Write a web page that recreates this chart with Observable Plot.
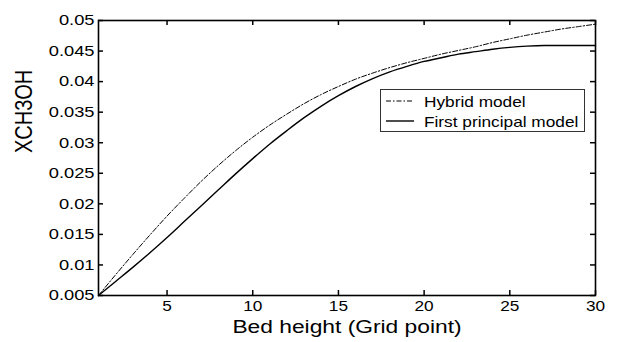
<!DOCTYPE html>
<html>
<head>
<meta charset="utf-8">
<script src="https://cdn.jsdelivr.net/npm/d3@7"></script>
<script src="https://cdn.jsdelivr.net/npm/@observablehq/plot@0.6"></script>
<style>
  html, body { margin: 0; padding: 0; background: #fff; }
  #chart { position: relative; width: 619px; height: 342px; font-family: "Liberation Sans", Arial, Helvetica, sans-serif; }
  .legend {
    position: absolute; left: 380px; top: 89px; width: 205px; height: 43px;
    border: 1px solid #333; background: #fff; box-sizing: border-box;
    font-size: 15px; color: #000;
  }
  .legend .row { position: absolute; left: 0; height: 20px; display: flex; align-items: center; }
  .legend .row svg { margin-left: 5px; margin-right: 10px; }
  .legend .row span { display: inline-block; transform: scaleX(1.15); transform-origin: left center; white-space: nowrap; }
</style>
</head>
<body>
<div id="chart"></div>
<script>
// Methanol mole fraction along the bed, hybrid vs first principal model
const gridPoint = [1, 2, 3, 4, 5, 6, 7, 8, 9, 10, 11, 12, 13, 14, 15,
                   16, 17, 18, 19, 20, 21, 22, 23, 24, 25, 26, 27, 28, 29, 30];
const hybridModel = [0.0050, 0.0084, 0.0117, 0.0149, 0.0180, 0.0209, 0.0237, 0.0263, 0.0287, 0.0309,
                     0.0329, 0.0347, 0.0364, 0.0379, 0.0392, 0.0404, 0.0414, 0.0423, 0.0431, 0.0438,
                     0.0445, 0.0451, 0.0457, 0.0464, 0.0470, 0.0476, 0.0481, 0.0486, 0.0490, 0.0494];
const firstPrincipalModel = [0.0050, 0.0073, 0.0096, 0.0120, 0.0145, 0.0171, 0.0197, 0.0223, 0.0249, 0.0274,
                             0.0298, 0.0320, 0.0341, 0.0360, 0.0377, 0.0392, 0.0405, 0.0416, 0.0425, 0.0433,
                             0.0439, 0.0445, 0.0449, 0.0453, 0.0456, 0.0458, 0.0459, 0.0459, 0.0459, 0.0459];
const seriesNames = ["Hybrid model", "First principal model"];
const xTicks = [5, 10, 15, 20, 25, 30];
const yTicks = [0.005, 0.01, 0.015, 0.02, 0.025, 0.03, 0.035, 0.04, 0.045, 0.05];
const yTickLabels = ["0.005", "0.01", "0.015", "0.02", "0.025", "0.03", "0.035", "0.04", "0.045", "0.05"];
const xLabel = "Bed height (Grid point)";
const yLabel = "XCH3OH";

const rows = gridPoint.map((g, i) => ({g, hybrid: hybridModel[i], first: firstPrincipalModel[i]}));

const W = 619, H = 342;
const margin = {top: 20, right: 24, bottom: 47, left: 98};
const plotW = W - margin.left - margin.right;
const plotH = H - margin.top - margin.bottom;
const tick = 5;
const dashDot = "5,2,1.5,2";

const plot = Plot.plot({
  width: W,
  height: H,
  marginTop: margin.top,
  marginRight: margin.right,
  marginBottom: margin.bottom,
  marginLeft: margin.left,
  style: {fontFamily: '"Liberation Sans", Arial, Helvetica, sans-serif', color: "#000", background: "#fff", overflow: "visible"},
  x: {domain: [1, 30]},
  y: {domain: [0.005, 0.05]},
  marks: [
    // curves
    Plot.line(rows, {x: "g", y: "hybrid", stroke: "#000", strokeWidth: 1, strokeDasharray: dashDot, curve: "monotone-x"}),
    Plot.line(rows, {x: "g", y: "first", stroke: "#000", strokeWidth: 1.4, curve: "monotone-x"}),
    // inward ticks on all four sides
    Plot.ruleX(xTicks, {x: d => d, insetTop: plotH - tick, strokeWidth: 1.5}),
    Plot.ruleX(xTicks, {x: d => d, insetBottom: plotH - tick, strokeWidth: 1.5}),
    Plot.ruleY(yTicks, {y: d => d, insetRight: plotW - tick, strokeWidth: 1.5}),
    Plot.ruleY(yTicks, {y: d => d, insetLeft: plotW - tick, strokeWidth: 1.5}),
    Plot.frame({stroke: "#000", strokeWidth: 1.6}),
    // tick labels
    Plot.axisX(xTicks, {tickSize: 0, tickPadding: 5, fontSize: 15, label: null}),
    Plot.axisY(yTicks, {tickSize: 0, tickPadding: 4, fontSize: 15, label: null,
                        tickFormat: d => yTickLabels[yTicks.indexOf(d)]}),
    // axis titles
    Plot.text([xLabel], {text: d => d, frameAnchor: "bottom", dy: 37, fontSize: 19}),
    Plot.text([yLabel], {text: d => d, frameAnchor: "left", dx: -74, dy: -5, rotate: -90, fontSize: 20})
  ]
});

// widen the glyphs horizontally, keeping each label anchored in place
function widen(selection, sx, rotated) {
  selection.each(function () {
    const t = this.getAttribute("transform");
    const s = rotated ? ` scale(1,${sx})` : ` scale(${sx},1)`;
    if (t) {
      this.setAttribute("transform", t + s);
    } else {
      const x = +this.getAttribute("x") || 0, y = +this.getAttribute("y") || 0;
      this.removeAttribute("x"); this.removeAttribute("y");
      this.setAttribute("transform", `translate(${x},${y})` + s);
    }
  });
}
const svg = d3.select(plot);
widen(svg.selectAll('g[aria-label="y-axis tick label"] text'), 1.22, false);
widen(svg.selectAll('g[aria-label="x-axis tick label"] text'), 1.15, false);
svg.selectAll('g[aria-label="text"] text').each(function () {
  const rotated = (this.getAttribute("transform") || "").includes("rotate");
  widen(d3.select(this), 1.2, rotated);
});

const chart = document.getElementById("chart");
chart.appendChild(plot);

// legend box inside the axes
const legend = document.createElement("div");
legend.className = "legend";
const styles = [{dash: dashDot, width: 1}, {dash: null, width: 1.4}];
seriesNames.forEach((name, i) => {
  const row = document.createElement("div");
  row.className = "row";
  row.style.top = (i === 0 ? 1 : 21) + "px";
  const s = d3.create("svg").attr("width", 28).attr("height", 10);
  s.append("line").attr("x1", 0).attr("x2", 28).attr("y1", 5).attr("y2", 5)
    .attr("stroke", "#000").attr("stroke-width", styles[i].width)
    .attr("stroke-dasharray", styles[i].dash);
  row.appendChild(s.node());
  const label = document.createElement("span");
  label.textContent = name;
  row.appendChild(label);
  legend.appendChild(row);
});
chart.appendChild(legend);
</script>
</body>
</html>
